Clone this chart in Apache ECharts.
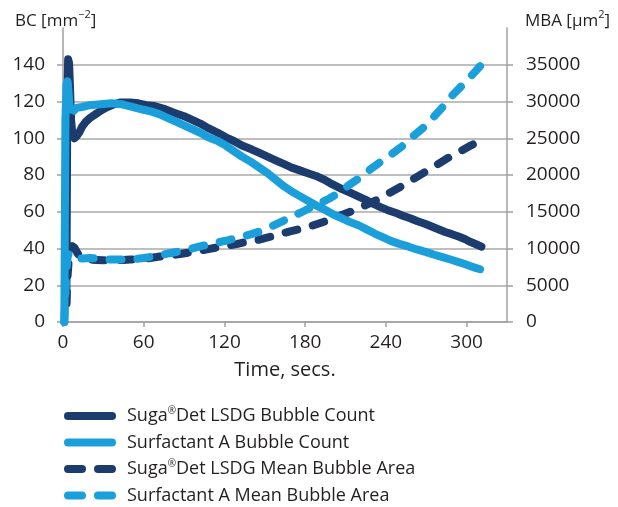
<!DOCTYPE html>
<html><head><meta charset="utf-8">
<script src="https://cdn.jsdelivr.net/npm/echarts@6/dist/echarts.min.js"></script>
<style>html,body{margin:0;padding:0;background:#fff}#c{width:618px;height:507px}</style>
</head><body><div id="c"></div>
<script>
// Time axis ticks (seconds)
const xTicks = [0, 60, 120, 180, 240, 300];
// Suga®Det LSDG Bubble Count (BC, mm^-2)
const sugaBcT = [2.5,3.2,3.8,4.5,5.2,6,7,8.5,10,12,14,17,20,24,28,33,38,43,50,56,62,68,75,82,90,96,102,108,115,121,127,133,140,146,152,158,164,170,176,182,188,194,200,207,213,219,225,230,236,241,247,252,258,263,269,274,279,284,289,294,299,303,307,311];
const sugaBc  = [10,120,143,141,128,110,102,100,101,103,106,109,111,113,115,117,118.5,119.5,119.5,119,118,117.5,116,114,112,110,108,105.5,103,100.5,98.5,96,94,92,90,88,86,84,82.5,81,79.5,77.5,75,72.5,70.5,68.5,66.5,64.5,62.5,61,59.5,58,56.5,55,53.5,52,50.5,49,47.8,46.5,45,43.5,42.3,41];
// Surfactant A Bubble Count (BC, mm^-2)
const surfBcT = [1,1.8,2.6,3.4,4.2,5,6,8,10,14,20,28,36,44,52,60,66,72,78,84,90,96,102,108,115,121,127,133,140,146,152,158,164,170,176,182,188,195,201,207,213,220,226,232,238,244,250,257,263,270,276,282,288,294,298,302,306,310];
const surfBc  = [0,110,129,131,124,116,117,115,116.5,117,118,118.5,119,118.5,117,115.5,114.5,113,111,109,107,105,103,100.5,98.5,96,93,90,87,84,81,77.5,74,71,68.5,66,63.5,61,58.5,56.5,54.5,52.5,50.3,48,46,44,42.5,41,39.5,38,36.6,35.3,34,32.6,31.7,30.6,29.6,28.7];
// Suga®Det LSDG Mean Bubble Area (MBA, µm^2)
const sugaMbaT = [2.5,3.5,4.5,5.5,7,8.5,10,12,14,17,20,25,30,35,40,45,50,55,60,66,72,80,87,95,102,109,116,122,129,135,142,148,155,162,168,176,185,195,205,215,225,233,242,250,259,268,277,285,294,302,310];
const sugaMba  = [2500,6500,9000,9800,10300,10100,9600,9000,8700,8550,8500,8450,8400,8400,8400,8450,8500,8550,8600,8750,8900,9050,9250,9500,9700,9950,10200,10400,10600,10850,11050,11300,11650,12000,12300,12650,13100,13700,14400,15100,15900,16600,17500,18300,19300,20300,21300,22200,23100,23900,24700];
// Surfactant A Mean Bubble Area (MBA, µm^2)
const surfMbaT = [1,1.8,2.6,3.4,4.2,5,6.5,8,10,15,20,25,30,35,40,45,50,55,60,65,70,75,82,89,95,101,108,114,121,127,134,140,146,155,163,170,178,188,198,206,213,222,230,237,244,252,259,267,274,281,287,294,301,306,310];
const surfMba  = [0,4000,7000,8800,9300,9000,8700,8600,8600,8650,8700,8650,8550,8500,8500,8500,8550,8600,8700,8850,9000,9200,9450,9700,9950,10250,10550,10800,11050,11350,11650,11950,12300,13000,13700,14300,15000,15900,16800,17700,18700,19800,21000,21900,22800,23900,25100,26300,27600,29000,30400,31700,33000,34000,34800];

const pairs = (t, v) => t.map((x, i) => [x, v[i]]);
const DARK = '#1d3c6e', LIGHT = '#1a9fda';
const FONT = 'Open Sans';
const TXT = '#231f20';
const GRAY = '#a0a0a0';
const names = ['Suga®Det LSDG Bubble Count','Surfactant A Bubble Count','Suga®Det LSDG Mean Bubble Area','Surfactant A Mean Bubble Area'];
const solidLegend = {width: 8, cap: 'round', type: 'solid'};
const dashLegend = {width: 8, cap: 'round', type: [14, 16]};

const chart = echarts.init(document.getElementById('c'), null, {renderer: 'canvas'});
const lineBase = {type: 'line', symbol: 'none', showSymbol: false, animation: false};
const tickLabel = {fontFamily: FONT, fontSize: 19, color: TXT, formatter: v => String(v)};
chart.setOption({
  animation: false,
  textStyle: {fontFamily: FONT, color: TXT},
  title: [
    {text: 'BC [mm{s|−2}]', left: 10, top: 4, textStyle: {fontFamily: FONT, fontSize: 17, fontWeight: 'normal', color: TXT, lineHeight: 24,
      rich: {s: {fontFamily: FONT, fontSize: 11, verticalAlign: 'top', lineHeight: 14, color: TXT}}}},
    {text: 'MBA [µm{s|2}]', right: 3, top: 4, textStyle: {fontFamily: FONT, fontSize: 17, fontWeight: 'normal', color: TXT, lineHeight: 24,
      rich: {s: {fontFamily: FONT, fontSize: 11, verticalAlign: 'top', lineHeight: 14, color: TXT}}}}
  ],
  grid: {left: 63, right: 111, top: 28, bottom: 185, containLabel: false},
  xAxis: {
    type: 'value', min: xTicks[0], max: 330, interval: 60,
    name: 'Time, secs.', nameLocation: 'middle', nameGap: 38,
    nameTextStyle: {fontFamily: FONT, fontSize: 20, color: TXT},
    axisLine: {show: true, lineStyle: {color: GRAY, width: 1.5}},
    axisTick: {show: true, inside: false, length: 5, lineStyle: {color: GRAY, width: 1.5}},
    axisLabel: Object.assign({}, tickLabel, {margin: 11, showMaxLabel: false}),
    splitLine: {show: false}
  },
  yAxis: [
    {type: 'value', min: 0, max: 160, interval: 20, position: 'left',
      axisLine: {show: true, lineStyle: {color: GRAY, width: 1.5}},
      axisTick: {show: true, length: 6, lineStyle: {color: GRAY, width: 1.5}},
      axisLabel: Object.assign({}, tickLabel, {margin: 18, showMaxLabel: false}),
      splitLine: {show: true, showMaxLine: false, lineStyle: {color: '#a8a8a8', width: 1.5}}},
    {type: 'value', min: 0, max: 40000, interval: 5000, position: 'right',
      axisLine: {show: true, lineStyle: {color: GRAY, width: 1.5}},
      axisTick: {show: true, length: 6, lineStyle: {color: GRAY, width: 1.5}},
      axisLabel: Object.assign({}, tickLabel, {margin: 19, showMaxLabel: false}),
      splitLine: {show: false}}
  ],
  legend: {
    orient: 'vertical', left: 64, top: 406, padding: 0, itemWidth: 44, itemHeight: 14, itemGap: 6.5,
    itemStyle: {opacity: 0},
    data: [
      {name: names[0], lineStyle: Object.assign({color: DARK}, solidLegend)},
      {name: names[1], lineStyle: Object.assign({color: LIGHT}, solidLegend)},
      {name: names[2], lineStyle: Object.assign({color: DARK}, dashLegend)},
      {name: names[3], lineStyle: Object.assign({color: LIGHT}, dashLegend)}
    ],
    formatter: n => n.replace('®', '{r|®}'),
    textStyle: {fontFamily: FONT, fontSize: 18, lineHeight: 20, color: TXT, padding: [0, 0, 0, 10],
      rich: {r: {fontFamily: FONT, fontSize: 10, verticalAlign: 'top', lineHeight: 10, color: TXT}}}
  },
  series: [
    Object.assign({}, lineBase, {name: names[0], yAxisIndex: 0, data: pairs(sugaBcT, sugaBc), z: 2,
      lineStyle: {color: DARK, width: 8, cap: 'round', join: 'round'}, itemStyle: {color: DARK}}),
    Object.assign({}, lineBase, {name: names[2], yAxisIndex: 1, data: pairs(sugaMbaT, sugaMba), z: 3,
      lineStyle: {color: DARK, width: 8, type: [12, 16], cap: 'round', join: 'round'}, itemStyle: {color: DARK}}),
    Object.assign({}, lineBase, {name: names[1], yAxisIndex: 0, data: pairs(surfBcT, surfBc), z: 4,
      lineStyle: {color: LIGHT, width: 8, cap: 'round', join: 'round'}, itemStyle: {color: LIGHT}}),
    Object.assign({}, lineBase, {name: names[3], yAxisIndex: 1, data: pairs(surfMbaT, surfMba), z: 5,
      lineStyle: {color: LIGHT, width: 8, type: [12, 16], cap: 'round', join: 'round'}, itemStyle: {color: LIGHT}})
  ]
});
</script></body></html>
